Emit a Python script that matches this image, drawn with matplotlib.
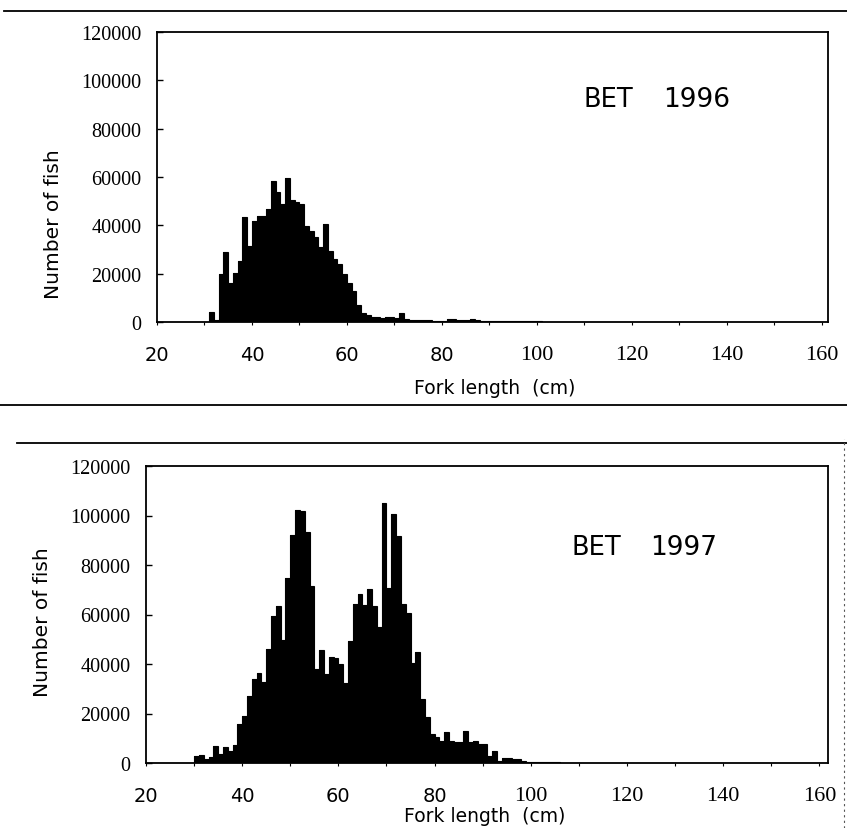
import numpy as np
import matplotlib
matplotlib.use("Agg")
import matplotlib.pyplot as plt
from matplotlib.lines import Line2D

# fork length classes (cm, left edge of each 1 cm class)
lengths = np.arange(20, 161)

# BET 1996, number of fish per 1 cm class
bet96_vals = {
    31: 4300, 32: 900, 33: 19700, 34: 29000, 35: 16200, 36: 20100, 37: 25200,
    38: 43400, 39: 31500, 40: 41700, 41: 44000, 42: 44000, 43: 46700,
    44: 58300, 45: 53800, 46: 48900, 47: 59400, 48: 50300, 49: 49600,
    50: 49000, 51: 39900, 52: 37800, 53: 35000, 54: 31000, 55: 40600,
    56: 29400, 57: 25900, 58: 23800, 59: 19700, 60: 16200, 61: 12700,
    62: 7100, 63: 3800, 64: 2700, 65: 2200, 66: 2200, 67: 1800, 68: 2200,
    69: 2200, 70: 1800, 71: 3600, 72: 1300, 73: 1000, 74: 1000, 75: 800,
    76: 800, 77: 800, 78: 400, 79: 400, 80: 600, 81: 1300, 82: 1300,
    83: 900, 84: 900, 85: 900, 86: 1200, 87: 700, 88: 600, 89: 500,
    90: 500, 91: 300, 92: 300, 93: 300, 94: 300, 95: 300, 96: 300,
    97: 300, 98: 300, 99: 300, 100: 300,
}

# BET 1997
bet97_vals = {
    26: 200, 27: 200, 30: 2800, 31: 3400, 32: 1600, 33: 2500, 34: 7000,
    35: 3500, 36: 6300, 37: 5000, 38: 7300, 39: 15800, 40: 19100,
    41: 26900, 42: 33900, 43: 36200, 44: 32900, 45: 46000, 46: 59500,
    47: 63600, 48: 49700, 49: 74600, 50: 92200, 51: 102300, 52: 102000,
    53: 93200, 54: 71600, 55: 38000, 56: 45700, 57: 36000, 58: 42700,
    59: 42300, 60: 40000, 61: 32200, 62: 49400, 63: 64200, 64: 68300,
    65: 63800, 66: 70300, 67: 63600, 68: 54800, 69: 105000, 70: 70700,
    71: 100600, 72: 91800, 73: 64200, 74: 60600, 75: 40400, 76: 45000,
    77: 25900, 78: 18700, 79: 11700, 80: 10400, 81: 9000, 82: 12700,
    83: 9000, 84: 8400, 85: 8400, 86: 13100, 87: 8400, 88: 9000,
    89: 7700, 90: 7700, 91: 3000, 92: 5000, 93: 900, 94: 1900, 95: 1900,
    96: 1500, 97: 1500, 98: 900, 99: 500, 100: 500, 101: 300, 102: 300,
    103: 300, 104: 300, 105: 300,
}

bet96 = np.array([bet96_vals.get(l, 150 if l > 100 else 0) for l in lengths])
bet97 = np.array([bet97_vals.get(l, 150 if l > 105 else 0) for l in lengths])

yticks = np.arange(0, 120001, 20000)
xticks = np.arange(20, 161, 20)

serif = ['Liberation Serif', 'DejaVu Serif']
sans = ['DejaVu Sans']

W, H = 847, 829
fig = plt.figure(figsize=(W / 100, H / 100), dpi=100)

def px(x, y):
    # pixel position on the page -> figure fraction
    return x / W, 1 - y / H

panels = [
    # counts, year, axes box (l, t, r, b) px, xmax, BET pos, year pos, ylabel pos, xlabel pos
    (bet96, "1996", (157, 33, 828, 323), 161.3, (583, 100), (663, 100), (53, 224), (495, 389)),
    (bet97, "1997", (146, 467, 828, 764), 161.8, (571, 548), (650, 548), (43, 622), (485, 817)),
]

for counts, year, box, xmax, bpos, ypos, ylpos, xlpos in panels:
    l, t, r, b = box
    ax = fig.add_axes([l / W, 1 - b / H, (r - l) / W, (b - t) / H])
    edges = np.append(lengths, lengths[-1] + 1)
    ax.stairs(counts, edges, fill=True, color='black', linewidth=0)
    ax.stairs(counts, edges, color='black', linewidth=0.8)
    ax.set_xlim(20, xmax)
    ax.set_ylim(0, 120000)
    ax.set_yticks(yticks)
    ax.set_yticklabels([str(v) for v in yticks], family=serif, fontsize=14.5)
    ax.set_xticks(xticks)
    ax.set_xticks(np.arange(30, 161, 20), minor=True)
    ax.set_xticklabels([str(v) for v in xticks])
    for lab, v in zip(ax.get_xticklabels(), xticks):
        if v < 100:
            lab.set_family(sans)
            lab.set_fontsize(14)
        else:
            lab.set_family(serif)
            lab.set_fontsize(16)
    ax.tick_params(axis='y', direction='in', length=4, width=1, pad=11)
    ax.tick_params(axis='x', which='both', direction='out', length=2.5,
                   width=0.8, pad=14)
    for s in ax.spines.values():
        s.set_linewidth(1.3)

    fig.text(*px(*bpos), "BET", family=sans, fontsize=18.5, ha='left', va='center')
    fig.text(*px(*ypos), year, family=sans, fontsize=19, ha='left', va='center')
    fig.text(*px(*xlpos), "Fork length  (cm)", family=sans, fontsize=13.5,
             ha='center', va='center')
    fig.text(*px(*ylpos), "Number of fish", family=sans, fontsize=14.5,
             rotation=90, ha='center', va='center')

# separator lines from the page
fig.add_artist(Line2D([0.005, 1.0], [1 - 12 / H, 1 - 12 / H], color='black', lw=1.3))
fig.add_artist(Line2D([0.0, 1.0], [1 - 406 / H, 1 - 406 / H], color='black', lw=1.3))
fig.add_artist(Line2D([17 / W, 1.0], [1 - 444 / H, 1 - 444 / H], color='black', lw=1.3))
fig.add_artist(Line2D([844 / W, 844 / W], [0.0, 1 - 440 / H], color='#555555',
                      lw=0.8, ls=(0, (2, 3))))

fig.savefig("out.png", dpi=100, facecolor='white')
